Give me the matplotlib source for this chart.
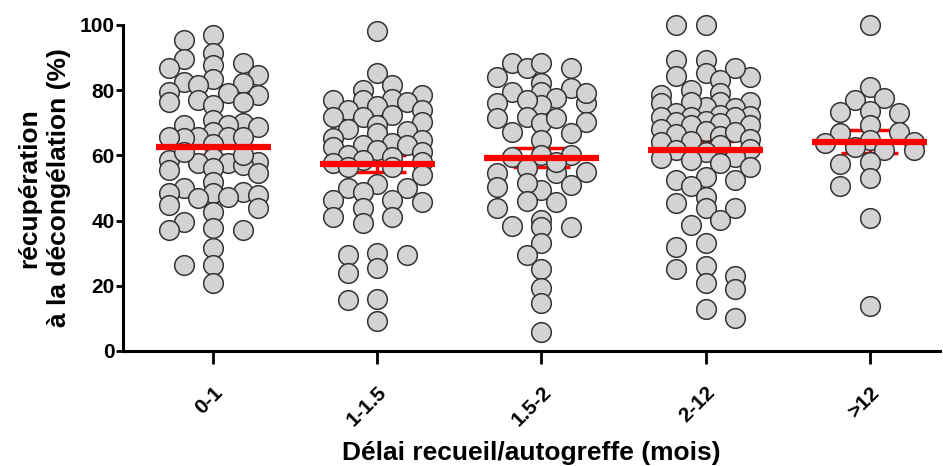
import numpy as np
import matplotlib
matplotlib.use('Agg')
import matplotlib.pyplot as plt

# Délai recueil/autogreffe (mois) groups
categories = ['0-1', '1-1.5', '1.5-2', '2-12', '>12']

# récupération à la décongélation (%) per group
recup_0_1 = [96.9, 95.4, 91.4, 89.6, 88.3, 87.7, 86.8, 84.7, 83.5, 82.5, 82.2, 81.6,
             79.4, 79.1, 78.5, 77.0, 76.4, 76.4, 75.5, 70.9, 69.9, 69.3, 69.3, 68.7,
             67.2, 65.6, 65.6, 65.6, 65.3, 65.6, 63.5,
             58.6, 59.2, 57.7, 58.0, 57.7, 57.0, 56.1, 55.5, 54.6, 61.0, 60.2,
             51.8, 50.0, 48.5, 48.5, 48.8, 47.9, 47.2, 46.9, 44.8, 43.9, 42.6, 39.6,
             37.7, 37.1, 37.1, 31.6, 26.4, 26.4, 20.9]
recup_1_15 = [98.2, 85.3, 81.6, 80.1, 78.5, 77.3, 77.0, 77.0, 76.4, 75.2, 74.0, 73.9,
              72.5, 71.8, 71.8, 70.2, 69.3, 68.0, 67.5, 66.9, 65.3, 64.7, 63.8, 63.2,
              63.2, 62.5, 61.7, 61.0, 60.1, 59.5, 58.6, 58.0, 57.7, 56.4, 56.4, 54.0,
              51.2, 50.0, 50.0, 48.8, 46.3, 46.3, 45.7, 43.9, 41.1, 41.1, 39.3, 30.1,
              29.4, 29.4, 25.5, 23.9, 16.0, 15.6, 9.2]
recup_15_2 = [88.3, 86.8, 88.3, 86.8, 84.0, 82.2, 79.4, 80.7, 79.4, 77.6, 75.5, 76.1,
              77.0, 79.1, 76.1, 71.5, 71.8, 69.9, 71.5, 70.2, 67.2, 66.9, 64.7, 60.1,
              59.5, 60.1, 54.9, 54.6, 56.1, 54.6, 58.0,
              50.9, 49.4, 51.5, 50.3, 46.0, 45.7, 43.9, 38.0, 38.3, 40.2, 38.0, 33.1,
              29.4, 25.2, 19.3, 14.7, 5.8]
recup_2_12 = [100.0, 100.0, 89.3, 89.3, 84.0, 85.3, 86.8, 84.4, 83.1, 79.1, 80.1, 78.5,
              76.4, 76.4, 74.5, 76.1, 74.8, 76.4, 73.0, 72.0, 71.8, 72.4, 71.8, 71.8,
              70.5, 69.3, 69.9, 70.2, 69.3, 68.0, 67.5, 66.5, 66.0, 67.2, 65.0, 64.5,
              64.0, 63.2, 62.0, 61.0, 61.7, 58.6, 59.5, 59.2, 57.7,
              56.4, 52.5, 53.4, 50.6, 52.5, 47.2, 43.9, 43.9, 45.4, 38.7, 40.2, 31.9,
              33.1, 26.1, 23.0, 25.2, 20.9, 19.0, 12.9, 10.1]
recup_12 = [100.0, 81.0, 77.6, 77.0, 73.6, 73.0, 73.3, 69.3, 66.9, 67.2, 64.7, 63.8,
            64.1, 62.6, 61.7, 61.7, 58.0, 57.4, 53.1, 50.6, 40.8, 13.8]

groups = [recup_0_1, recup_1_15, recup_15_2, recup_2_12, recup_12]

plt.rcParams['font.family'] = ['Liberation Sans', 'DejaVu Sans']
plt.rcParams['font.weight'] = 'bold'
plt.rcParams['axes.labelweight'] = 'bold'

fig = plt.figure(figsize=(9.43, 4.66), dpi=100)
ax = fig.add_axes([0.1304, 0.2468, 0.8667, 0.6996])
ax.set_xlim(-0.55, 4.43)
ax.set_ylim(0, 100)


def swarm_offsets(values, ax, dx_min=28.0, dy_min=13.0, step=14.8, max_k=3):
    """prism-like scatter: columns ~15px apart, points in a row kept ~2 columns apart"""
    p0 = ax.transData.transform((0, 0))
    p1 = ax.transData.transform((1, 1))
    sx, sy = p1 - p0
    order = np.argsort(values)[::-1]
    placed = []
    offs = np.zeros(len(values))
    for n, idx in enumerate(order):
        y = values[idx] * sy
        sign = 1 if n % 2 else -1
        slots = sorted(range(-max_k, max_k + 1), key=lambda k: (abs(k), sign * k))
        best, best_d = 0.0, -1.0
        for k in slots:
            x = k * step
            d = min((np.hypot((x - px) / dx_min, (y - py) / dy_min) for px, py in placed),
                    default=1e9)
            if d >= 1.0:
                best = x
                break
            if d > best_d + 1e-9:
                best_d, best = d, x
        placed.append((best, y))
        offs[idx] = best / sx
    return offs


for i, vals in enumerate(groups):
    vals = np.array(vals)
    offs = swarm_offsets(vals, ax)
    ax.scatter(i + offs, vals, s=200, facecolor='#d3d3d3', edgecolor='#333333',
               linewidths=1.1, zorder=3, clip_on=False)
    m = vals.mean()
    sem = vals.std(ddof=1) / np.sqrt(len(vals))
    ax.hlines([m - sem, m + sem], i - 0.175, i + 0.175, color='red', lw=2.5, zorder=2)
    ax.vlines(i, m - sem, m + sem, color='red', lw=2.5, zorder=2)
    ax.hlines(m, i - 0.35, i + 0.35, color='red', lw=4.5, zorder=4)

ax.spines['top'].set_visible(False)
ax.spines['right'].set_visible(False)
ax.spines['left'].set_linewidth(2.2)
ax.spines['bottom'].set_linewidth(2.2)

ax.set_yticks(range(0, 101, 20))
ax.set_xticks(range(len(categories)))
ax.set_xticklabels(categories, rotation=45, ha='right', rotation_mode='anchor')
ax.tick_params(axis='y', width=2, length=5, labelsize=15, pad=1)
ax.tick_params(axis='x', width=2, length=9, labelsize=15, pad=14)

ax.set_ylabel('récupération\nà la décongélation (%)', fontsize=19, linespacing=1.3)
ax.yaxis.set_label_coords(-0.064, 0.5)
ax.set_xlabel('Délai recueil/autogreffe (mois)', fontsize=19)
ax.xaxis.set_label_coords(0.5, -0.276)

fig.savefig('out.png', dpi=100)
